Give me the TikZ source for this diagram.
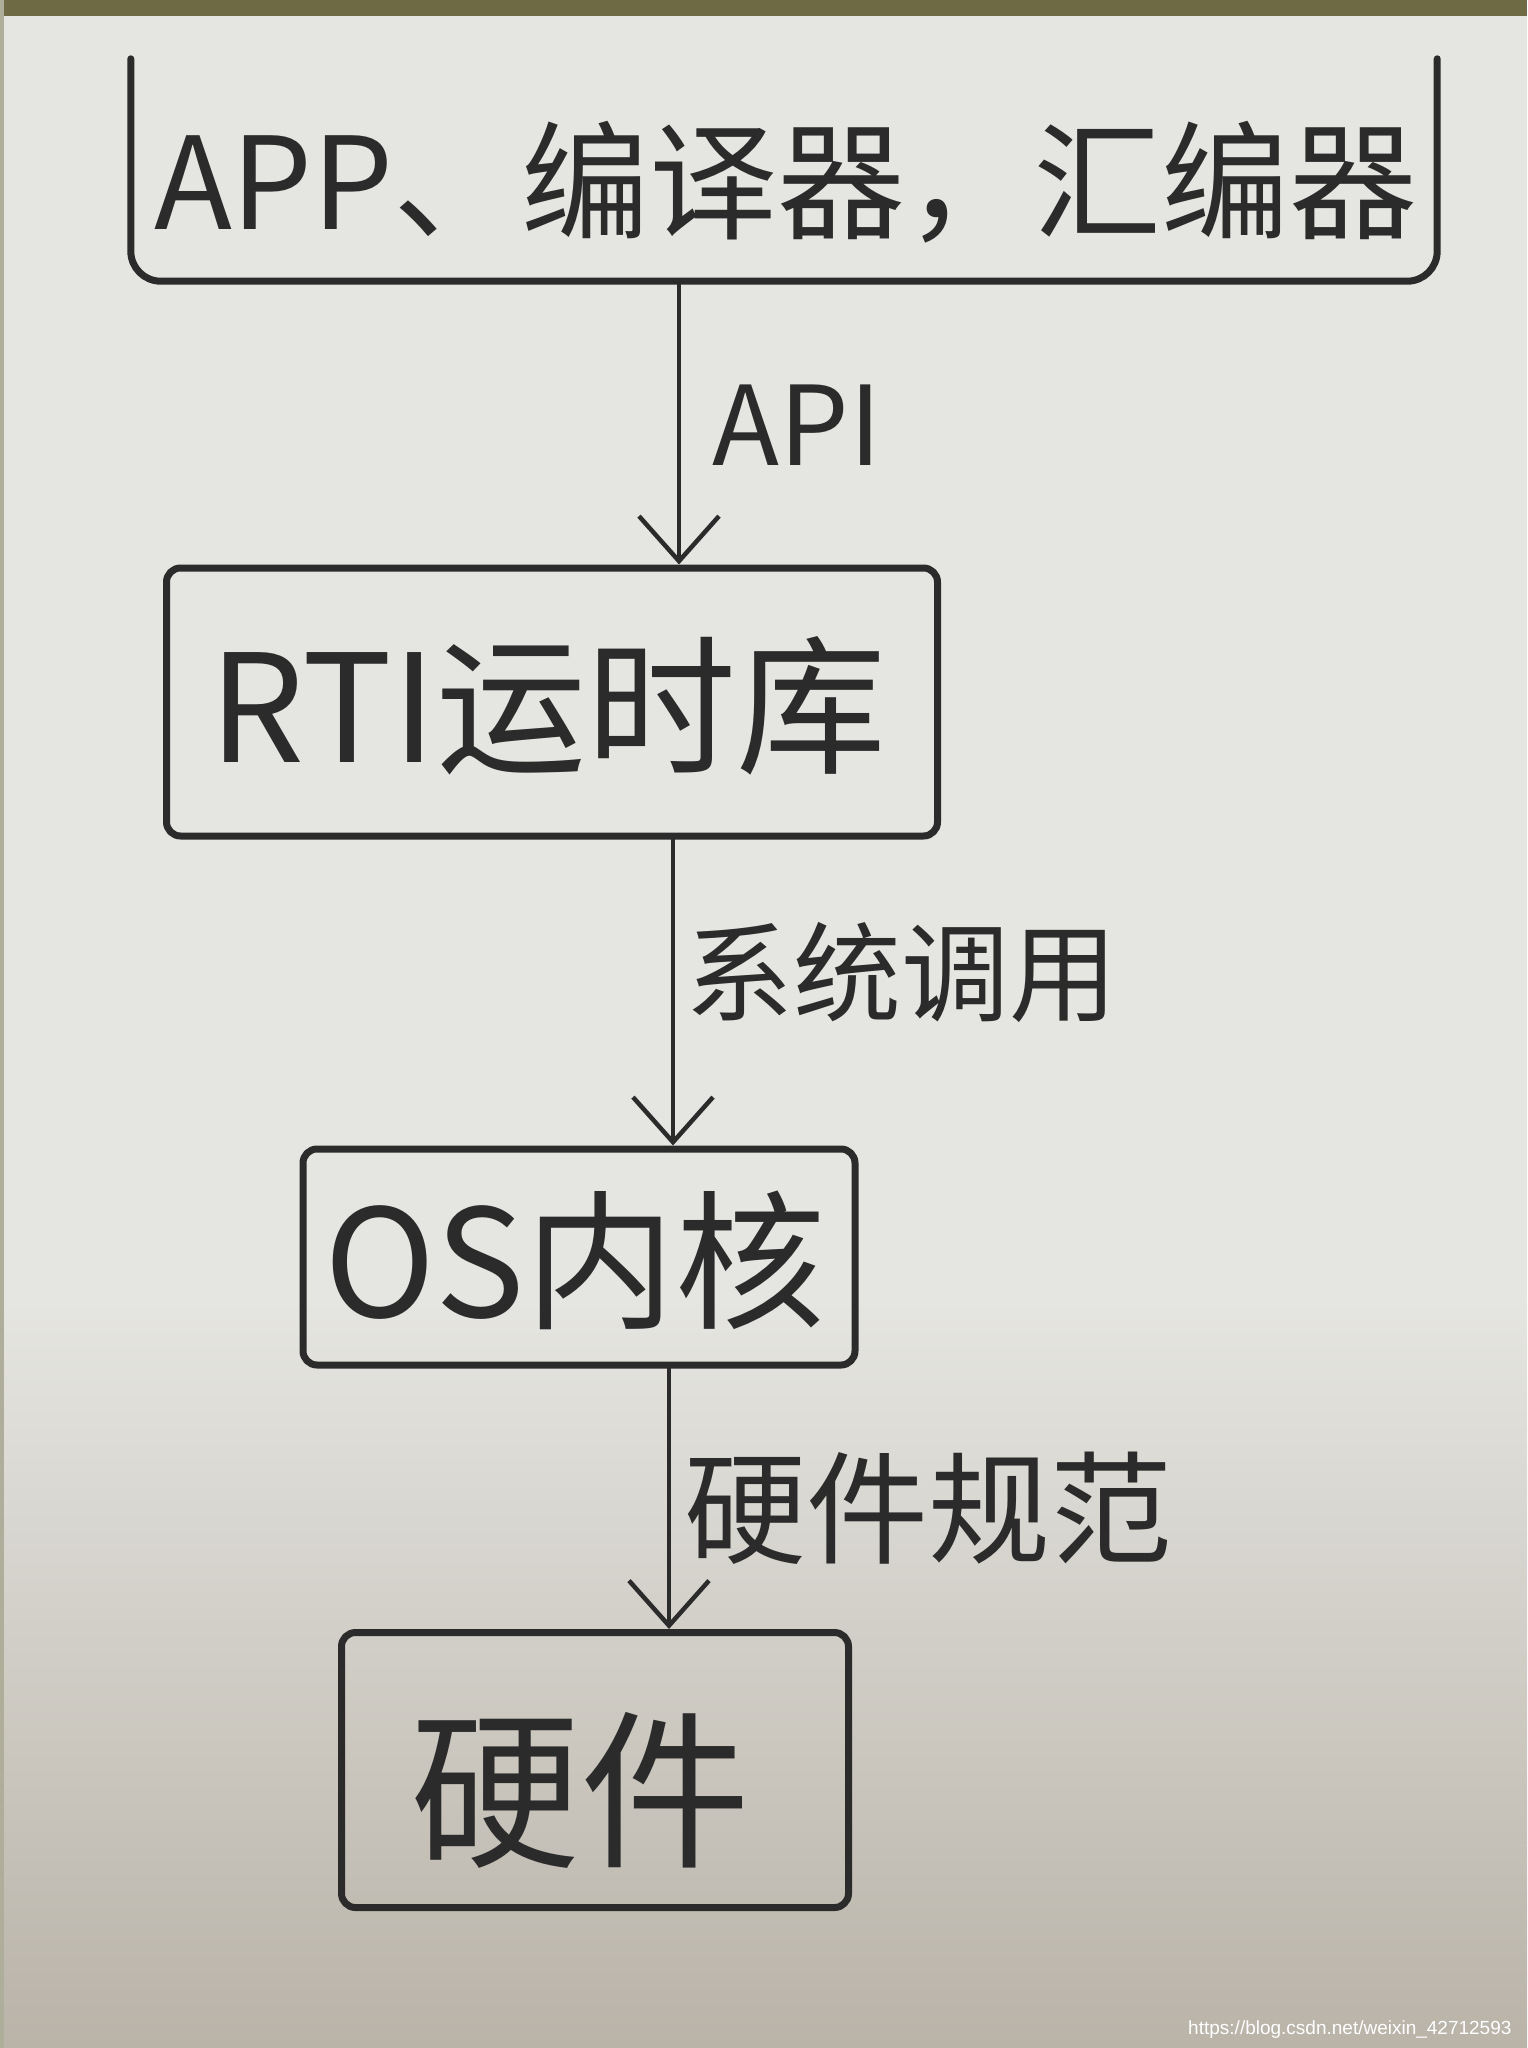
\documentclass[tikz,border=0pt]{standalone}
\usepackage{fontspec}
\setmainfont{Liberation Sans}
\newfontfamily\cjk{Noto Sans CJK SC}
\usetikzlibrary{arrows.meta}
\definecolor{ink}{HTML}{2B2B2B}
\definecolor{paperA}{HTML}{E5E5E1}
\definecolor{paperB}{HTML}{B9B3A8}
\definecolor{table}{HTML}{6E6A44}
\begin{document}
\begin{tikzpicture}[x=1pt,y=-1pt,
  pen/.style={draw=ink,line width=7pt,line cap=round,line join=round},
  thinpen/.style={draw=ink,line width=4.5pt,line cap=round,line join=round},
  boxnode/.style={pen,rounded corners=14pt,inner sep=0pt},
  arr/.style={thinpen,-{Straight Barb[length=45pt,width=80pt,line width=4.5pt]}},
  big/.style={text=ink,font=\cjk\fontsize{#1}{#1}\selectfont},
]
\useasboundingbox (0,0) rectangle (1527,2048);
\fill[paperA] (0,0) rectangle (1527,1301);
\shade[top color=paperA,bottom color=paperB] (0,1300) rectangle (1527,2048);
\fill[table] (0,0) rectangle (1527,16);
\fill[table!45!paperA] (0,0) rectangle (4,2048);
% boxes
\node[inner sep=0pt,minimum width=1306pt,minimum height=222pt] (top) at (784,170) {};
\draw[pen,rounded corners=30pt] (top.north west) -- (top.south west) -- (top.south east) -- (top.north east);
\node[big=128] (toptext) at (786,182) {APP、编译器，汇编器};
\node[boxnode,minimum width=771pt,minimum height=268pt] (rti) at (552,702) {};
\node[big=150] (rtitext) at (548,706) {RTI运时库};
\node[boxnode,minimum width=552pt,minimum height=216pt] (os) at (579,1257) {};
\node[big=150] (ostext) at (575,1260) {OS内核};
\node[boxnode,minimum width=507pt,minimum height=275pt] (hw) at (595,1770) {};
\node[big=170] (hwtext) at (580,1790) {硬件};
% connectors
\coordinate (a1) at (679,0);
\coordinate (a2) at (673,0);
\coordinate (a3) at (669,0);
\draw[arr] (top.south -| a1) -- (rti.north -| a1);
\draw[arr] (rti.south -| a2) -- (os.north -| a2);
\draw[arr] (os.south -| a3) -- (hw.north -| a3);
% labels
\node[big=110] (l1) at (797,425) {API};
\node[big=108] (l2) at (901,973) {系统调用};
\node[big=122] (l3) at (928,1508) {硬件规范};
% watermark
\node[text=white,font=\fontsize{19}{19}\selectfont,anchor=east] (wm) at (1515,2030) {https://blog.csdn.net/weixin\_42712593};
\end{tikzpicture}
\end{document}
